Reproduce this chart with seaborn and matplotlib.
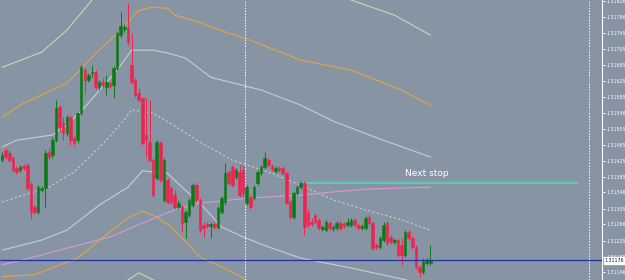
import numpy as np
import pandas as pd
import matplotlib
matplotlib.use("Agg")
import matplotlib.pyplot as plt
import matplotlib.transforms as mtransforms
import seaborn as sns

# candles (one per bar, left to right)
opens = [1.31427, 1.31452, 1.31445, 1.31432, 1.31407, 1.31402, 1.31412, 1.31415, 1.31367, 1.31309,
         1.31297, 1.31352, 1.31357, 1.31447, 1.31440, 1.31477, 1.31560, 1.31520, 1.31495, 1.31535,
         1.31482, 1.31477, 1.31545, 1.31653, 1.31628, 1.31645, 1.31648, 1.31610, 1.31623, 1.31610,
         1.31620, 1.31615, 1.31658, 1.31741, 1.31756, 1.31758, 1.31665, 1.31628, 1.31595, 1.31583,
         1.31490, 1.31472, 1.31427, 1.31382, 1.31470, 1.31327, 1.31377, 1.31357, 1.31339, 1.31309,
         1.31309, 1.31272, 1.31289, 1.31314, 1.31364, 1.31327, 1.31264, 1.31267, 1.31262, 1.31267,
         1.31259, 1.31297, 1.31322, 1.31397, 1.31410, 1.31384, 1.31397, 1.31402, 1.31319, 1.31334,
         1.31332, 1.31369, 1.31394, 1.31410, 1.31427, 1.31412, 1.31400, 1.31407, 1.31407, 1.31394,
         1.31322, 1.31284, 1.31344, 1.31359, 1.31369, 1.31294, 1.31272, 1.31289, 1.31277, 1.31254,
         1.31251, 1.31269, 1.31254, 1.31256, 1.31269, 1.31267, 1.31264, 1.31264, 1.31277, 1.31264,
         1.31256, 1.31256, 1.31284, 1.31269, 1.31214, 1.31209, 1.31226, 1.31269, 1.31234, 1.31221,
         1.31226, 1.31214, 1.31189, 1.31246, 1.31231, 1.31209, 1.31159, 1.31146, 1.31169, 1.31169]
highs = [1.31447, 1.31457, 1.31452, 1.31437, 1.31412, 1.31415, 1.31417, 1.31420, 1.31372, 1.31314,
         1.31364, 1.31362, 1.31452, 1.31457, 1.31485, 1.31578, 1.31565, 1.31535, 1.31540, 1.31540,
         1.31487, 1.31548, 1.31665, 1.31658, 1.31645, 1.31665, 1.31653, 1.31628, 1.31633, 1.31640,
         1.31625, 1.31663, 1.31751, 1.31798, 1.31768, 1.31821, 1.31746, 1.31633, 1.31608, 1.31585,
         1.31583, 1.31578, 1.31432, 1.31477, 1.31475, 1.31432, 1.31382, 1.31362, 1.31352, 1.31327,
         1.31314, 1.31302, 1.31332, 1.31369, 1.31369, 1.31332, 1.31272, 1.31272, 1.31272, 1.31272,
         1.31312, 1.31337, 1.31420, 1.31402, 1.31415, 1.31407, 1.31415, 1.31415, 1.31364, 1.31339,
         1.31364, 1.31402, 1.31415, 1.31447, 1.31432, 1.31417, 1.31412, 1.31412, 1.31412, 1.31400,
         1.31327, 1.31349, 1.31364, 1.31374, 1.31374, 1.31304, 1.31282, 1.31294, 1.31282, 1.31264,
         1.31277, 1.31274, 1.31264, 1.31274, 1.31274, 1.31272, 1.31282, 1.31282, 1.31282, 1.31269,
         1.31267, 1.31287, 1.31289, 1.31274, 1.31219, 1.31236, 1.31272, 1.31274, 1.31239, 1.31231,
         1.31231, 1.31231, 1.31251, 1.31251, 1.31236, 1.31214, 1.31164, 1.31181, 1.31181, 1.31214]
lows = [1.31422, 1.31430, 1.31422, 1.31397, 1.31392, 1.31397, 1.31402, 1.31352, 1.31279, 1.31292,
        1.31292, 1.31347, 1.31309, 1.31427, 1.31432, 1.31472, 1.31497, 1.31477, 1.31487, 1.31465,
        1.31462, 1.31470, 1.31540, 1.31595, 1.31623, 1.31635, 1.31605, 1.31603, 1.31608, 1.31590,
        1.31608, 1.31583, 1.31653, 1.31733, 1.31748, 1.31716, 1.31618, 1.31585, 1.31573, 1.31465,
        1.31435, 1.31422, 1.31334, 1.31377, 1.31372, 1.31322, 1.31317, 1.31317, 1.31304, 1.31304,
        1.31246, 1.31231, 1.31284, 1.31309, 1.31322, 1.31246, 1.31234, 1.31256, 1.31231, 1.31254,
        1.31254, 1.31292, 1.31314, 1.31364, 1.31359, 1.31379, 1.31334, 1.31334, 1.31314, 1.31304,
        1.31327, 1.31364, 1.31389, 1.31405, 1.31410, 1.31400, 1.31394, 1.31397, 1.31389, 1.31314,
        1.31279, 1.31279, 1.31339, 1.31354, 1.31239, 1.31259, 1.31262, 1.31267, 1.31251, 1.31249,
        1.31246, 1.31251, 1.31249, 1.31251, 1.31251, 1.31256, 1.31259, 1.31259, 1.31259, 1.31251,
        1.31251, 1.31251, 1.31264, 1.31201, 1.31204, 1.31204, 1.31221, 1.31214, 1.31216, 1.31216,
        1.31184, 1.31164, 1.31184, 1.31226, 1.31204, 1.31154, 1.31134, 1.31141, 1.31164, 1.31164]
closes = [1.31440, 1.31435, 1.31427, 1.31402, 1.31397, 1.31410, 1.31407, 1.31357, 1.31297, 1.31297,
          1.31359, 1.31357, 1.31445, 1.31435, 1.31477, 1.31558, 1.31510, 1.31495, 1.31535, 1.31477,
          1.31470, 1.31545, 1.31660, 1.31628, 1.31640, 1.31648, 1.31610, 1.31623, 1.31615, 1.31623,
          1.31613, 1.31658, 1.31746, 1.31763, 1.31761, 1.31723, 1.31623, 1.31590, 1.31578, 1.31470,
          1.31477, 1.31427, 1.31339, 1.31472, 1.31377, 1.31427, 1.31322, 1.31322, 1.31309, 1.31319,
          1.31269, 1.31297, 1.31327, 1.31364, 1.31327, 1.31251, 1.31256, 1.31262, 1.31267, 1.31259,
          1.31307, 1.31332, 1.31394, 1.31369, 1.31364, 1.31402, 1.31339, 1.31344, 1.31359, 1.31309,
          1.31359, 1.31397, 1.31410, 1.31432, 1.31415, 1.31405, 1.31407, 1.31402, 1.31394, 1.31319,
          1.31284, 1.31344, 1.31359, 1.31369, 1.31259, 1.31264, 1.31267, 1.31272, 1.31256, 1.31259,
          1.31272, 1.31256, 1.31259, 1.31269, 1.31256, 1.31262, 1.31272, 1.31277, 1.31264, 1.31256,
          1.31262, 1.31282, 1.31269, 1.31206, 1.31209, 1.31231, 1.31264, 1.31219, 1.31221, 1.31226,
          1.31189, 1.31189, 1.31246, 1.31231, 1.31209, 1.31159, 1.31146, 1.31171, 1.31176, 1.31176]

# indicator lines (bar index, price)
green_up_x = [0, 11, 18, 25, 33, 55, 83, 97, 109, 119]
green_up_y = [1.31660, 1.31698, 1.31753, 1.31829, 1.31929, 1.31954, 1.31891, 1.31829, 1.31791, 1.31741]
green_dn_x = [0, 22, 35, 38, 42, 55, 83, 119]
green_dn_y = [1.30999, 1.31076, 1.31126, 1.31144, 1.31126, 1.31051, 1.30975, 1.30999]
orange_up_x = [0, 6, 18, 27, 32, 38, 42, 46, 48, 55, 58, 69, 83, 97, 111, 119]
orange_up_y = [1.31535, 1.31570, 1.31620, 1.31703, 1.31746, 1.31803, 1.31811, 1.31808, 1.31791, 1.31773,
               1.31761, 1.31728, 1.31678, 1.31653, 1.31603, 1.31565]
orange_dn_x = [0, 9, 21, 27, 35, 39, 43, 47, 55, 61, 67, 74, 119]
orange_dn_y = [1.31134, 1.31139, 1.31181, 1.31226, 1.31282, 1.31299, 1.31284, 1.31259, 1.31184, 1.31159,
               1.31131, 1.31088, 1.31026]
gray_up_x = [0, 4, 14, 18, 23, 32, 36, 42, 46, 51, 58, 72, 83, 92, 105, 119]
gray_up_y = [1.31460, 1.31477, 1.31490, 1.31515, 1.31560, 1.31653, 1.31703, 1.31703, 1.31696, 1.31683,
             1.31635, 1.31603, 1.31565, 1.31525, 1.31480, 1.31435]
mid_x = [0, 13, 20, 29, 34, 36, 42, 49, 55, 64, 74, 83, 92, 101, 111, 119]
mid_y = [1.31322, 1.31359, 1.31397, 1.31477, 1.31528, 1.31553, 1.31545, 1.31507, 1.31472, 1.31427,
         1.31397, 1.31364, 1.31327, 1.31302, 1.31277, 1.31251]
gray_dn_x = [0, 11, 18, 27, 35, 39, 46, 50, 55, 61, 67, 74, 83, 97, 119]
gray_dn_y = [1.31201, 1.31226, 1.31251, 1.31314, 1.31359, 1.31400, 1.31394, 1.31359, 1.31319, 1.31259,
             1.31234, 1.31209, 1.31181, 1.31156, 1.31113]
ma_x = [0, 9, 18, 30, 39, 48, 55, 69, 83, 92, 101, 111, 119]
ma_y = [1.31164, 1.31184, 1.31206, 1.31234, 1.31269, 1.31302, 1.31319, 1.31332, 1.31339, 1.31347,
        1.31354, 1.31357, 1.31359]

stop_level = 1.31369
stop_x = [83.3, 160]
separators = [67.5, 163]
price_ticks = ["1.31826", "1.31786", "1.31745", "1.31705", "1.31665", "1.31625", "1.31585", "1.31546",
               "1.31505", "1.31465", "1.31425", "1.31385", "1.31346", "1.31305", "1.31266", "1.31225",
               "1.31185", "1.31146"]

bg = "#8794a4"
bull = "#0b7a14"
bear = "#ec2450"

sns.set_style("ticks")
plt.rcParams['font.family'] = ['DejaVu Sans']

fig = plt.figure(figsize=(6.25, 2.8), dpi=100)
fig.patch.set_facecolor(bg)
ax = fig.add_axes([0, 0, 602 / 625, 1])
ax.set_facecolor(bg)

df = pd.DataFrame({"o": opens, "h": highs, "l": lows, "c": closes})
df["x"] = np.arange(len(df))
cols = [bull if c >= o else bear for o, c in zip(df.o, df.c)]

# indicator lines
lines = [
    (green_up_x, green_up_y, "#b9e2b2", "-"),
    (green_dn_x, green_dn_y, "#b9e2b2", "-"),
    (orange_up_x, orange_up_y, "#e3a63c", "-"),
    (orange_dn_x, orange_dn_y, "#e3a63c", "-"),
    (gray_up_x, gray_up_y, "#c9cdd2", "-"),
    (gray_dn_x, gray_dn_y, "#c9cdd2", "-"),
    (mid_x, mid_y, "#c9cdd2", (0, (2, 2))),
    (ma_x, ma_y, "#d79ad8", "-"),
]
for lx, ly, lc, ls in lines:
    sns.lineplot(x=lx, y=ly, ax=ax, color=lc, linewidth=0.8, linestyle=ls)

# candles
ax.vlines(df.x, df.l, df.h, colors=cols, linewidth=0.7, zorder=3)
ax.bar(df.x, (df.c - df.o).abs(), bottom=np.minimum(df.o, df.c), width=0.72,
       color=cols, edgecolor=cols, linewidth=0.4, zorder=4)

# next stop line
sns.lineplot(x=stop_x, y=[stop_level, stop_level], ax=ax, color="#4fdcb2", linewidth=1.1)
ax.text(112, stop_level + 0.00012, "Next stop", color="white", fontsize=6.5, ha="left", va="bottom")

# current price line
ax.axhline(closes[-1], color="#2432a8", linewidth=0.9, zorder=5)
for s in separators:
    ax.axvline(s, color="white", linewidth=0.7, linestyle=(0, (1.5, 1.5)), zorder=2)

ax.set_xlim(-0.56, 166.7)
ax.set_ylim(1.31126, 1.31829)
ax.set_xticks([])
ax.yaxis.tick_right()
ax.set_yticks([float(t) for t in price_ticks])
ax.set_yticklabels(price_ticks)
ax.tick_params(axis="y", colors="white", labelsize=3.4, length=2, width=0.6, pad=1)
for lab in ax.get_yticklabels():
    lab.set_clip_on(False)
for side in ["top", "bottom", "left"]:
    ax.spines[side].set_visible(False)
ax.spines["right"].set_color("white")
ax.spines["right"].set_linewidth(0.8)
ax.set_xlabel("")
ax.set_ylabel("")

trans = mtransforms.blended_transform_factory(ax.transAxes, ax.transData)
ax.text(1.0045, closes[-1] - 0.00002, f"{closes[-1]:.5f}", transform=trans, fontsize=3.4, color="#1a1a1a",
        va="center", ha="left", zorder=6,
        bbox=dict(boxstyle="square,pad=0.2", facecolor="white", edgecolor="white"))

fig.savefig("out.png", dpi=100, facecolor=bg)
